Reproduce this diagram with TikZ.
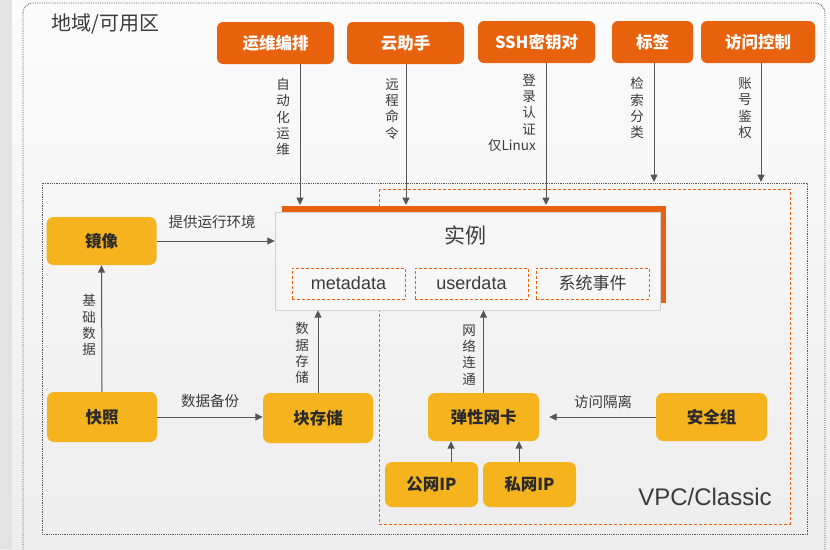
\documentclass[tikz,border=0pt]{standalone}
\usepackage{fontspec}
\setmainfont{Noto Sans CJK SC}
\newfontfamily\latinfont{Liberation Sans}
\usetikzlibrary{arrows.meta}

\definecolor{ecsorange}{RGB}{232,98,14}
\definecolor{ecsyellow}{RGB}{245,180,30}
\definecolor{ecsarrow}{RGB}{85,85,85}
\definecolor{ecstext}{RGB}{60,60,60}
\definecolor{ecsbg}{RGB}{238,238,238}

\tikzset{
	topbox/.style={fill=ecsorange, rounded corners=6pt, text=white,
		font=\fontsize{16.5}{16.5}\selectfont\bfseries, minimum height=42pt, inner sep=0pt},
	ybox/.style={fill=ecsyellow, rounded corners=7pt, text=ecstext!70!black,
		font=\fontsize{16.5}{16.5}\selectfont\bfseries, minimum width=110pt, minimum height=49pt, inner sep=0pt},
	lbl/.style={text=ecstext, font=\fontsize{14.5}{14.5}\selectfont, inner sep=1pt},
	vlbl/.style={text=ecstext, align=center, font=\fontsize{13.5}{16.2}\selectfont, inner sep=1pt},
	databox/.style={fill=white!55!ecsbg, draw=ecsorange, densely dashed, minimum width=113pt,
		minimum height=31pt, inner sep=0pt, text=ecstext, font=\fontsize{17}{17}\selectfont},
	arr/.style={draw=ecsarrow, line width=1pt, -{Triangle[length=7.5pt,width=7pt]}},
}

\begin{document}
\begin{tikzpicture}[x=1pt,y=-1pt]

	% Sfondo
	\clip (0,0) rectangle (830,549);
	\shade[top color=gray!3, bottom color=gray!14] (0,0) rectangle (830,549);
	\fill[gray!22] (0,0) rectangle (12,549);

	% Regione / zona
	\draw[gray!70!black, densely dotted, thick, rounded corners=10pt] (23,3) rectangle (825,570);
	\node[anchor=west, text=ecstext, font=\fontsize{20}{20}\selectfont] (region) at (48,24) {地域/可用区};
	\draw[gray!70!black, densely dotted, thick] (42,183) rectangle (807,534);
	\draw[ecsorange, densely dashed] (379,189) rectangle (790,524);
	\node[text=ecstext, font=\latinfont\fontsize{24}{24}\selectfont] (vpc) at (705,497) {VPC/Classic};

	% Servizi in alto
	\node[topbox, minimum width=117pt] (oos) at (275.5,43) {运维编排};
	\node[topbox, minimum width=117pt] (assist) at (405.5,43) {云助手};
	\node[topbox, minimum width=117pt] (ssh) at (536.5,42) {SSH密钥对};
	\node[topbox, minimum width=81pt] (tag) at (652.5,42) {标签};
	\node[topbox, minimum width=114pt] (ram) at (758,42) {访问控制};

	% Istanza
	\fill[ecsorange] (282,206) rectangle (666,303);
	\node[fill=white!50!ecsbg, draw=gray!35, minimum width=385pt, minimum height=98pt, inner sep=0pt] (inst) at (467.5,261) {};
	\node[text=ecstext, font=\fontsize{21}{21}\selectfont] (insttitle) at (465,235) {实例};
	\node[databox, font=\latinfont\fontsize{18}{18}\selectfont] (meta) at (348.5,283.5) {metadata};
	\node[databox, font=\latinfont\fontsize{18}{18}\selectfont] (user) at (471.5,283.5) {userdata};
	\node[databox] (event) at (592.5,283.5) {系统事件};

	% Punti di arrivo
	\coordinate (t1) at (300,205);
	\coordinate (t2) at (406,205);
	\coordinate (t3) at (546,205);
	\coordinate (t4) at (654,182);
	\coordinate (t5) at (761,182);

	\draw[arr] (oos.south -| t1) -- (t1);
	\draw[arr] (assist.south -| t2) -- (t2);
	\draw[arr] (ssh.south -| t3) -- (t3);
	\draw[arr] (tag.south -| t4) -- (t4);
	\draw[arr] (ram.south -| t5) -- (t5);

	\node[vlbl] (l1) at (283,117) {自\\动\\化\\运\\维};
	\node[vlbl] (l2) at (392,109) {远\\程\\命\\令};
	\node[vlbl, align=right, anchor=north east] (l3) at (537,73) {登\\录\\认\\证\\仅Linux};
	\node[vlbl] (l4) at (637,108) {检\\索\\分\\类};
	\node[vlbl] (l5) at (745,108) {账\\号\\鉴\\权};

	% Blocchi gialli
	\node[ybox, minimum height=48pt] (img) at (101.5,241) {镜像};
	\node[ybox, minimum height=50pt] (snap) at (102,417) {快照};
	\node[ybox, minimum height=50pt] (disk) at (318,418) {块存储};
	\node[ybox, minimum width=111pt, minimum height=48pt] (eni) at (483.5,417) {弹性网卡};
	\node[ybox, minimum width=111pt, minimum height=48pt] (sg) at (711.5,417) {安全组};
	\node[ybox, minimum width=93pt, minimum height=45pt] (pubip) at (431.5,484.5) {公网IP};
	\node[ybox, minimum width=93pt, minimum height=45pt] (privip) at (529.5,484.5) {私网IP};

	% Collegamenti
	\draw[arr] (img.east) -- (img.east -| inst.west);
	\node[lbl] (h1) at (212,222) {提供运行环境};
	\draw[arr] (snap.north) -- (img.south);
	\node[vlbl] (l6) at (89,325) {基\\础\\数\\据};
	\draw[arr] (snap.east) -- (snap.east -| disk.west);
	\node[lbl] (h2) at (210,401) {数据备份};
	\draw[arr] (disk.north) -- (disk.north |- inst.south);
	\node[vlbl] (l7) at (302,353) {数\\据\\存\\储};
	\draw[arr] (eni.north) -- (eni.north |- inst.south);
	\node[vlbl] (l8) at (469,355) {网\\络\\连\\通};
	\draw[arr] (sg.west) -- ([xshift=10pt]eni.east);
	\node[lbl] (h3) at (603,402) {访问隔离};
	\draw[arr] ([xshift=19.5pt]pubip.north) -- ([xshift=19.5pt]pubip.north |- eni.south);
	\draw[arr] ([xshift=-10.5pt]privip.north) -- ([xshift=-10.5pt]privip.north |- eni.south);
\end{tikzpicture}
\end{document}
